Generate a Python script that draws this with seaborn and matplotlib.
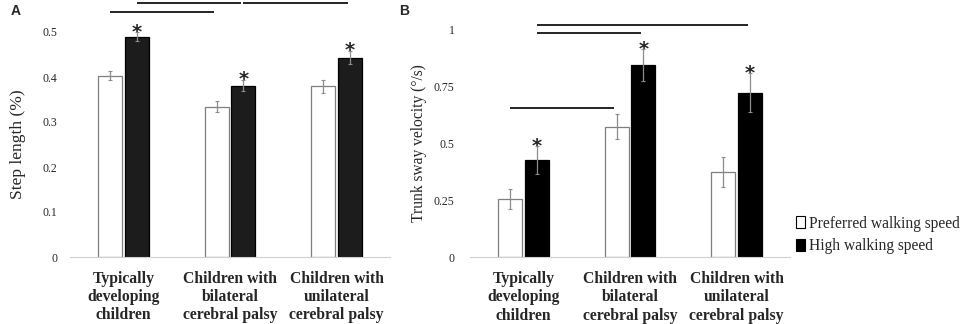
import pandas as pd
import matplotlib.pyplot as plt
import seaborn as sns
from matplotlib.patches import Patch

# Groups and conditions
groups = ['Typically\ndeveloping\nchildren',
          'Children with\nbilateral\ncerebral palsy',
          'Children with\nunilateral\ncerebral palsy']
speeds = ['Preferred walking speed', 'High walking speed']

# Panel A - step length (%)
step_pref = [0.403, 0.334, 0.379]
step_pref_err = [0.010, 0.012, 0.014]
step_high = [0.490, 0.381, 0.443]
step_high_err = [0.009, 0.013, 0.015]

# Panel B - trunk sway velocity (deg/s)
sway_pref = [0.256, 0.573, 0.373]
sway_pref_err = [0.045, 0.055, 0.066]
sway_high = [0.427, 0.843, 0.722]
sway_high_err = [0.060, 0.070, 0.085]

# significance bars: (group, speed) -> (group, speed), height
sig_a = [((0, 0), (1, 0), 0.544), ((0, 1), (1, 1), 0.564), ((1, 1), (2, 1), 0.564)]
sig_b = [((0, 1), (2, 1), 1.019), ((0, 1), (1, 1), 0.984), ((0, 0), (1, 0), 0.656)]

serif = 'Liberation Serif'


def long_df(pref, high):
    return pd.DataFrame({
        'group': groups * 2,
        'speed': [speeds[0]] * 3 + [speeds[1]] * 3,
        'value': list(pref) + list(high),
    })


def draw_panel(ax, pref, pref_err, high, high_err, sig, dark, ylim, yticks,
               yticklabels, ylabel, ylab_size, ylab_pad, ytick_pad):
    df = long_df(pref, high)
    sns.barplot(data=df, x='group', y='value', hue='speed', hue_order=speeds,
                palette=['white', dark], width=0.505, gap=0.11, errorbar=None,
                legend=False, ax=ax)
    centers = []
    for i, (cont, errs) in enumerate(zip(ax.containers, [pref_err, high_err])):
        ec = '#7f7f7f' if i == 0 else 'black'
        xs = []
        for bar in cont:
            bar.set_edgecolor(ec)
            bar.set_linewidth(0.9)
            xs.append(bar.get_x() + bar.get_width() / 2)
        centers.append(xs)
        vals = pref if i == 0 else high
        ax.errorbar(xs, vals, yerr=errs, fmt='none', ecolor='#8c8c8c',
                    elinewidth=0.9, capsize=1.5, capthick=0.8, zorder=5)

    # asterisks over the high speed bars
    for x, v, e in zip(centers[1], high, high_err):
        ax.annotate('*', (x, v + e), xytext=(0, 0), textcoords='offset points',
                    ha='center', va='center', fontsize=14, fontweight='bold',
                    family='DejaVu Sans', annotation_clip=False)

    # significance lines
    for (g1, s1), (g2, s2), h in sig:
        x1 = centers[s1][g1]
        x2 = centers[s2][g2]
        ax.plot([x1, x2 - 0.02], [h, h], color='black', lw=1.2,
                clip_on=False, solid_capstyle='butt')

    ax.set_ylim(*ylim)
    ax.set_xlim(-0.5, 2.5)
    ax.set_yticks(yticks)
    ax.set_yticklabels(yticklabels, fontsize=8.5)
    ax.set_ylabel(ylabel, fontsize=ylab_size, labelpad=ylab_pad)
    ax.set_xlabel('')
    ax.set_xticks(range(3))
    ax.set_xticklabels(groups, fontsize=11.3, fontweight='bold',
                       linespacing=1.19)
    ax.tick_params(axis='x', which='major', length=0, pad=10)
    ax.tick_params(axis='y', length=0, pad=ytick_pad)
    ax.set_xticks([-0.5, 0.5, 1.5, 2.5], minor=True)
    ax.tick_params(axis='x', which='minor', length=4, color='#d0d0d0')
    for side in ['top', 'right', 'left']:
        ax.spines[side].set_visible(False)
    ax.spines['bottom'].set_color('#d0d0d0')
    ax.grid(False)


sns.set_style('white')
plt.rcParams['font.family'] = serif

fig = plt.figure(figsize=(9.64, 3.24), dpi=100)
ax_a = fig.add_axes([70 / 964, 1 - 257 / 324, 320 / 964, 225 / 324])
ax_b = fig.add_axes([470 / 964, 1 - 257.3 / 324, 320 / 964, 228 / 324])

draw_panel(ax_a, step_pref, step_pref_err, step_high, step_high_err, sig_a,
           '#1c1c1c', (0, 0.5),
           [0, 0.1, 0.2, 0.3, 0.4, 0.5], ['0', '0.1', '0.2', '0.3', '0.4', '0.5'],
           'Step length (%)', 12.5, 12, 9)
draw_panel(ax_b, sway_pref, sway_pref_err, sway_high, sway_high_err, sig_b,
           'black', (0, 1),
           [0, 0.25, 0.5, 0.75, 1], ['0', '0.25', '0.5', '0.75', '1'],
           'Trunk sway velocity (°/s)', 11.2, 5, 11)

# legend for panel B
handles = [Patch(facecolor='white', edgecolor='black', lw=0.8),
           Patch(facecolor='black', edgecolor='black', lw=0.8)]
fig.legend(handles, speeds, loc='center left', bbox_to_anchor=(0.8257, 0.275),
           bbox_transform=fig.transFigure, frameon=False, fontsize=11.2,
           handlelength=0.6, handleheight=0.8, handletextpad=0.25,
           labelspacing=0.4, borderpad=0, borderaxespad=0)

fig.text(11 / 964, 1 - 11 / 324, 'A', fontsize=10, fontweight='bold',
         family='Liberation Sans', va='center')
fig.text(399 / 964, 1 - 11 / 324, 'B', fontsize=10, fontweight='bold',
         family='Liberation Sans', va='center')

fig.savefig('out.png', dpi=100)
